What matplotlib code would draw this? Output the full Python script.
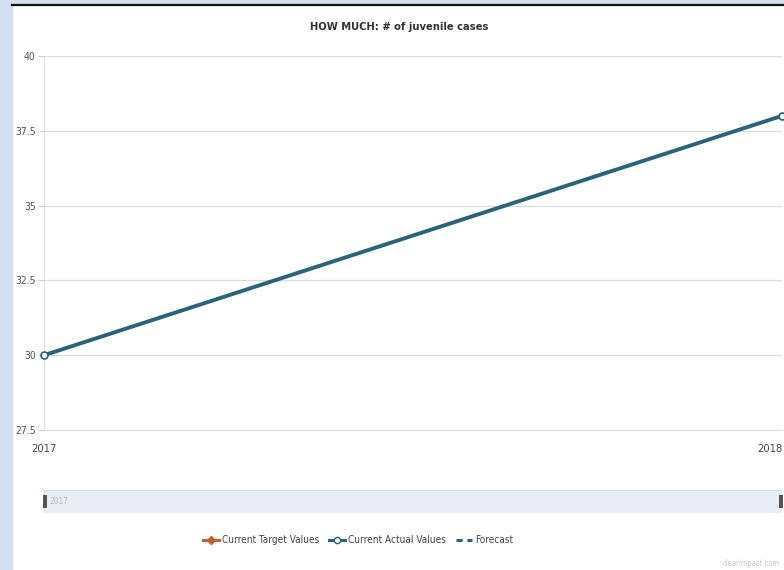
import matplotlib
matplotlib.use("Agg")
import matplotlib.pyplot as plt
from matplotlib.lines import Line2D
from matplotlib.patches import Rectangle

years = [2017, 2018]
actual = [30, 38]
y_ticks = [27.5, 30, 32.5, 35, 37.5, 40]
y_labels = ["27.5", "30", "32.5", "35", "37.5", "40"]
legend_names = ["Current Target Values", "Current Actual Values", "Forecast"]

plt.rcParams['font.family'] = ['DejaVu Sans']
plt.rcParams['font.stretch'] = 'condensed'

W, H = 784, 570
fig = plt.figure(figsize=(W / 100, H / 100), dpi=100)

def px(x0, y0, x1, y1):
    return [x0 / W, 1 - y1 / H, (x1 - x0) / W, (y1 - y0) / H]

# screenshot frame: light blue strip on the left and top, dark rule
fig.patches.append(Rectangle((0, 0), 12 / W, 1, transform=fig.transFigure,
                             color="#d6dff0", zorder=0))
fig.patches.append(Rectangle((0, 1 - 4 / H), 1, 4 / H, transform=fig.transFigure,
                             color="#d6dff0", zorder=0))
fig.add_artist(Line2D([12 / W, 1], [1 - 4.5 / H, 1 - 4.5 / H], color="#111111", lw=1.6))

ax = fig.add_axes(px(44, 56, 782, 430))
line_color = "#2a6478"
ax.plot(years, actual, color=line_color, lw=2.8, marker="o", ms=5,
        mfc="white", mec=line_color, mew=1.2, clip_on=False, zorder=3)
ax.set_xlim(2017, 2018)
ax.set_ylim(27.5, 40)
ax.set_yticks(y_ticks)
ax.set_yticklabels(y_labels)
ax.set_xticks(years)
ax.set_xticklabels([str(y) for y in years])
ax.grid(axis="y", color="#dddddd", lw=0.9)
for s in ["top", "right"]:
    ax.spines[s].set_visible(False)
ax.spines["left"].set_color("#dddddd")
ax.spines["bottom"].set_color("#dddddd")
ax.tick_params(axis="y", length=4, color="#cccccc", labelsize=7.5, labelcolor="#555555", pad=2)
ax.tick_params(axis="x", length=0, labelsize=8, labelcolor="#444444", pad=10)
ax.get_xticklabels()[-1].set_horizontalalignment("right")
ax.get_xticklabels()[0].set_horizontalalignment("center")

fig.text(399 / W, 1 - 27 / H, "HOW MUCH: # of juvenile cases", ha="center", va="center",
         fontsize=8, color="#333333", fontweight="semibold")

# navigator / range slider
nav = fig.add_axes(px(44, 490, 782, 513))
nav.set_xlim(0, 1)
nav.set_ylim(0, 1)
nav.axis("off")
nav.add_patch(Rectangle((0, 0), 1, 1, facecolor="#e9eef6", edgecolor="#d4dbe6", lw=0.8))
nav.add_patch(Rectangle((-0.002, 0.2), 0.006, 0.6, facecolor="#555555", clip_on=False))
nav.add_patch(Rectangle((0.996, 0.2), 0.006, 0.6, facecolor="#555555", clip_on=False))
nav.text(0.008, 0.5, "2017", fontsize=6, color="#bbbbbb", va="center")

# legend
handles = [
    Line2D([], [], color="#c0622b", lw=2.2, marker="D", ms=4, mfc="#c0622b"),
    Line2D([], [], color=line_color, lw=2.2, marker="o", ms=4.5, mfc="white", mec=line_color),
    Line2D([], [], color=line_color, lw=2.2, ls=(0, (2, 1.6))),
]
fig.legend(handles, legend_names, loc="center", bbox_to_anchor=(358 / W, 1 - 540 / H),
           ncol=3, frameon=False, fontsize=7.2, handlelength=1.6, handletextpad=0.3,
           columnspacing=1.0, labelcolor="#444444")

fig.text(780 / W, 1 - 563 / H, "clearimpact.com", ha="right", va="center",
         fontsize=5.5, color="#c8c8c8")

fig.savefig("out.png", dpi=100)
